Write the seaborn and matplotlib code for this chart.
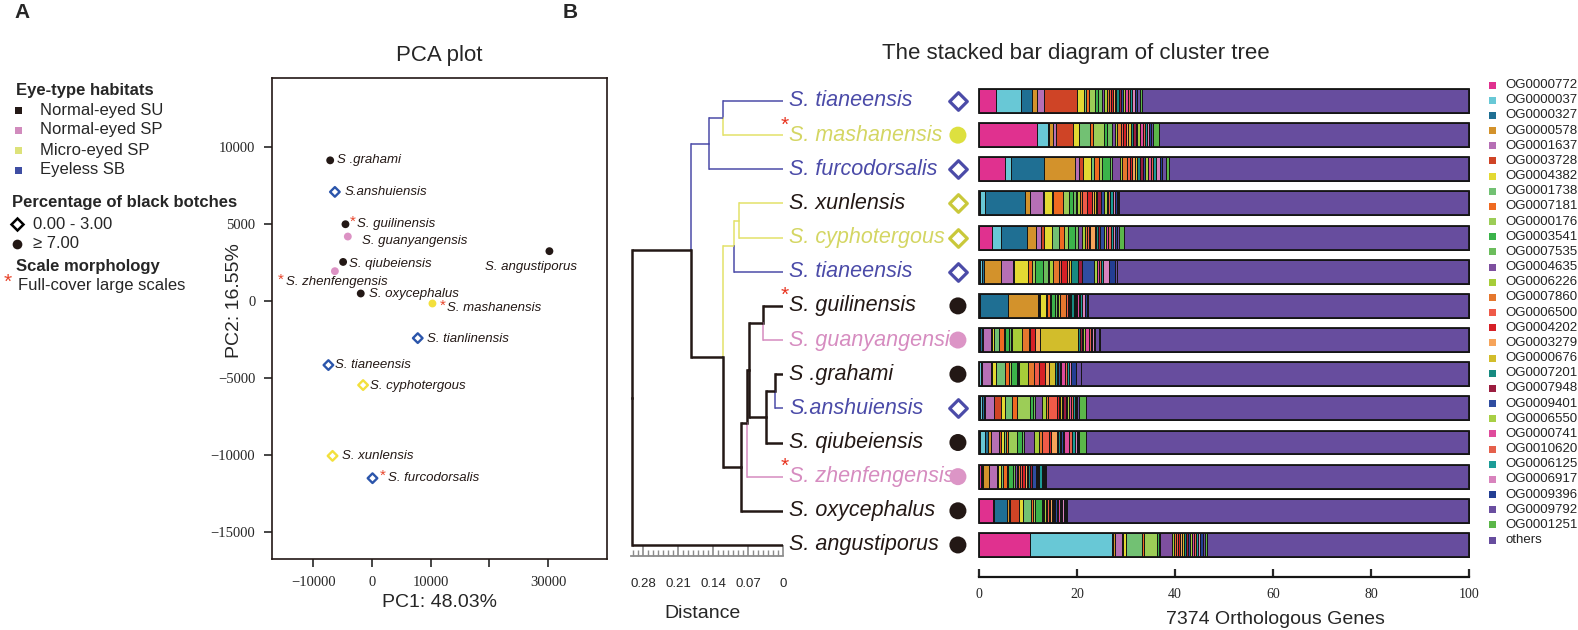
import numpy as np
import pandas as pd
import matplotlib
matplotlib.use('Agg')
from matplotlib import pyplot as plt
from matplotlib.patches import Rectangle
from matplotlib.lines import Line2D
import seaborn as sns

sns.set_style('white')
plt.rcParams['font.family'] = ['Liberation Sans', 'DejaVu Sans']

W, H = 1578, 630


def px(x, y):
    return x / W, 1 - y / H


# ---------------- PCA data ----------------
pca_species = ['S .grahami', 'S.anshuiensis', 'S. guilinensis', 'S. guanyangensis',
               'S. qiubeiensis', 'S. zhenfengensis', 'S. oxycephalus', 'S. mashanensis',
               'S. angustiporus', 'S. tianlinensis', 'S. tianeensis', 'S. cyphotergous',
               'S. xunlensis', 'S. furcodorsalis']
pc1 = [-7100, -6300, -4500, -4100, -4900, -6300, -1900, 10300, 30200, 7800, -7400, -1500, -6700, 100]
pc2 = [9150, 7100, 5000, 4200, 2550, 1950, 500, -150, 3250, -2400, -4150, -5450, -10050, -11500]
pca_habitat = ['SU', 'SB', 'SU', 'SP', 'SU', 'SP', 'SU', 'MSP', 'SU', 'SB', 'SB', 'MSP', 'MSP', 'SB']
pca_blotch = ['high', 'low', 'high', 'high', 'high', 'high', 'high', 'high', 'high',
              'low', 'low', 'low', 'low', 'low']
pca_star = [False, False, True, False, False, True, False, True, False, False, False, False, False, True]

# label offsets in pixels (layout only)
lab_dx = [7, 10, 12, 14, 6, -49, 8, 15, -64, 9, 7, 7, 9, 15]
lab_dy = [0, 0, 0, 4, 2, 11, 1, 5, 16, 1, 0, 1, 0, 0]

pca_pal = {'SU': '#231815', 'SP': '#dc92c4', 'MSP': '#f3e03c', 'SB': '#2b55ab'}

# ---------------- tree data ----------------
tree_tips = ['S. tianeensis', 'S. mashanensis', 'S. furcodorsalis', 'S. xunlensis',
             'S. cyphotergous', 'S. tianeensis', 'S. guilinensis', 'S. guanyangensis',
             'S .grahami', 'S.anshuiensis', 'S. qiubeiensis', 'S. zhenfengensis',
             'S. oxycephalus', 'S. angustiporus']
BLUE, YEL, PINK, BLK = '#4b4ba8', '#e3e26a', '#d68cc0', '#231815'
tip_label_color = [BLUE, '#d4d663', BLUE, BLK, '#d4d663', BLUE, BLK, PINK, BLK, BLUE, BLK, PINK, BLK, BLK]
tip_branch_color = [BLUE, YEL, BLUE, YEL, YEL, BLUE, BLK, PINK, BLK, BLUE, BLK, PINK, BLK, BLK]
tip_marker = ['D', 'o', 'D', 'D', 'D', 'D', 'o', 'o', 'o', 'D', 'o', 'o', 'o', 'o']
tip_marker_color = [BLUE, '#dde03f', BLUE, '#c9c83a', '#c9c83a', BLUE, BLK, '#dc95c6',
                    BLK, BLUE, BLK, '#dc95c6', BLK, BLK]
tip_star = [False, True, False, False, False, False, True, False, False, False, False, True, False, False]

# internal nodes: (name, child a, child b, distance, branch colour)
tree_nodes = [
    ('D', 0, 1, 0.120, BLUE),
    ('B', 'D', 2, 0.148, BLUE),
    ('G', 3, 4, 0.088, YEL),
    ('E', 'G', 5, 0.098, YEL),
    ('I', 6, 7, 0.040, BLK),
    ('L', 8, 9, 0.016, BLK),
    ('K', 'L', 10, 0.034, BLK),
    ('J', 'I', 'K', 0.068, BLK),
    ('H', 'J', 11, 0.072, BLK),
    ('F', 'H', 12, 0.084, BLK),
    ('C', 'E', 'F', 0.120, BLK),
    ('A', 'B', 'C', 0.184, BLK),
    ('R', 'A', 13, 0.302, BLK),
]

# ---------------- stacked bar data (% of 7374 orthologous genes) ----------------
og_ids = ['OG0000772', 'OG0000037', 'OG0000327', 'OG0000578', 'OG0001637', 'OG0003728',
          'OG0004382', 'OG0001738', 'OG0007181', 'OG0000176', 'OG0003541', 'OG0007535',
          'OG0004635', 'OG0006226', 'OG0007860', 'OG0006500', 'OG0004202', 'OG0003279',
          'OG0000676', 'OG0007201', 'OG0007948', 'OG0009401', 'OG0006550', 'OG0000741',
          'OG0010620', 'OG0006125', 'OG0006917', 'OG0009396', 'OG0009792', 'OG0001251', 'others']
og_colors = ['#e0318f', '#68c8d6', '#1f6f93', '#d3922b', '#b66fb5', '#cf4426',
             '#e3d933', '#72c173', '#ef6a21', '#9ccd57', '#3bb34a', '#6cbd5c',
             '#7e4f9f', '#a6cd39', '#e5772e', '#ef5a48', '#d62027', '#f6a45a',
             '#d2bd2b', '#178a80', '#9b1d3f', '#2f4da0', '#a8cf45', '#df4b9c',
             '#e5604c', '#1c9c97', '#d883bd', '#233e93', '#6a4ea0', '#5bb749', '#674d9e']

row_tianeensis_1 = [3.4, 5.1, 2.4, 0.9, 1.4, 6.9, 1.4, 0.4, 0.5, 1.2, 0.7, 0.8, 0.5, 0.6, 0.3,
                    0.4, 0.5, 0.3, 0.3, 0.6, 0.4, 0.3, 0.5, 0.6, 0.5, 0.3, 0.6, 0.5, 0.6, 0.4]
row_mashanensis = [11.8, 2.2, 0.3, 0.9, 0.6, 3.3, 1.3, 2.2, 0.7, 2.2, 0.7, 1.0, 0.5, 0.5, 0.7,
                   0.5, 0.7, 0.4, 0.5, 0.4, 0.6, 0.3, 0.5, 0.6, 0.4, 0.5, 0.4, 0.3, 0.6, 1.2]
row_furcodorsalis = [5.3, 1.2, 6.7, 6.3, 1.0, 0.7, 1.7, 0.5, 1.0, 0.7, 1.6, 0.5, 1.6, 0.4, 1.0,
                     0.6, 0.5, 0.5, 0.4, 0.7, 0.6, 0.4, 0.5, 0.6, 0.5, 0.6, 0.8, 0.5, 0.8, 0.6]
row_xunlensis = [0.2, 1.1, 8.1, 1.0, 2.6, 0.2, 1.7, 0.2, 2.0, 1.2, 0.9, 0.5, 0.3, 0.6, 0.4,
                 1.1, 1.0, 0.4, 0.3, 0.3, 0.8, 0.6, 0.6, 0.3, 0.4, 0.6, 0.3, 0.4, 0.3, 0.2]
row_cyphotergous = [2.6, 1.9, 5.2, 2.0, 0.9, 0.7, 1.6, 1.4, 1.1, 0.8, 1.4, 0.7, 0.8, 0.5, 0.4,
                    0.4, 0.3, 0.9, 0.3, 0.4, 0.3, 1.0, 0.3, 0.4, 0.6, 0.5, 0.3, 0.4, 0.5, 0.9]
row_tianeensis_2 = [0.3, 0.3, 0.5, 3.4, 2.4, 0.3, 2.7, 0.2, 0.8, 0.5, 1.6, 1.0, 0.3, 0.7, 1.4,
                    0.4, 1.1, 0.5, 0.3, 1.6, 0.8, 2.4, 0.5, 0.4, 0.5, 0.4, 1.2, 1.2, 0.4, 0.0]
row_guilinensis = [0.1, 0.1, 5.8, 6.0, 0.2, 0.2, 1.2, 0.3, 0.5, 0.3, 0.8, 0.4, 0.3, 0.4, 1.2,
                   0.3, 0.3, 0.2, 0.2, 0.5, 0.2, 0.3, 0.3, 0.3, 0.3, 0.3, 0.7, 0.3, 0.2, 0.1]
row_guanyangensis = [0.1, 0.2, 0.3, 0.2, 1.6, 0.2, 0.5, 1.0, 0.9, 0.3, 0.9, 0.4, 0.2, 2.0, 1.4,
                     0.3, 1.0, 1.0, 7.8, 0.4, 0.3, 0.3, 0.3, 0.9, 0.3, 0.3, 0.3, 0.3, 0.8, 0.2]
row_grahami = [0.1, 0.3, 0.2, 0.1, 1.8, 0.2, 0.8, 1.9, 0.8, 0.3, 1.2, 0.3, 0.2, 1.9, 1.2,
               1.0, 1.2, 0.8, 1.2, 0.4, 0.3, 0.3, 0.3, 0.7, 0.4, 0.4, 0.5, 1.0, 1.1, 0.0]
row_anshuiensis = [0.2, 0.5, 0.3, 0.2, 1.8, 1.4, 1.0, 1.4, 1.0, 2.7, 0.5, 0.4, 1.5, 0.8, 0.4,
                   1.8, 0.4, 0.3, 0.3, 0.3, 0.5, 0.3, 0.3, 0.5, 0.4, 0.3, 0.3, 0.3, 0.3, 1.5]
row_qiubeiensis = [0.2, 1.1, 0.5, 0.6, 1.7, 0.3, 0.8, 0.4, 0.4, 1.7, 1.0, 0.4, 2.2, 1.0, 0.6,
                   1.4, 0.4, 1.2, 0.3, 0.3, 0.3, 0.3, 0.3, 1.0, 0.5, 0.7, 0.3, 0.3, 0.3, 1.4]
row_zhenfengensis = [0.5, 0.2, 0.2, 1.2, 1.6, 0.2, 0.6, 0.3, 0.9, 0.3, 1.0, 0.4, 0.3, 0.3, 0.3,
                     0.4, 0.6, 0.5, 0.2, 0.5, 0.3, 0.8, 0.2, 0.2, 0.3, 0.5, 0.2, 0.3, 0.2, 0.2]
row_oxycephalus = [2.9, 0.2, 2.7, 0.3, 0.3, 1.8, 0.7, 1.8, 0.4, 0.3, 1.4, 0.2, 0.3, 0.3, 0.3,
                   0.3, 0.3, 0.3, 0.2, 0.3, 0.3, 0.3, 0.3, 0.3, 0.2, 0.3, 0.3, 0.2, 0.3, 0.2]
row_angustiporus = [10.4, 16.7, 0.2, 0.5, 1.4, 0.2, 0.5, 3.3, 0.4, 2.7, 0.4, 0.2, 2.4, 0.4, 0.5,
                    0.4, 0.5, 0.4, 0.3, 0.4, 0.5, 0.4, 0.3, 0.5, 0.4, 0.4, 0.3, 0.7, 0.4, 0.5]

bar_rows = [row_tianeensis_1, row_mashanensis, row_furcodorsalis, row_xunlensis,
            row_cyphotergous, row_tianeensis_2, row_guilinensis, row_guanyangensis,
            row_grahami, row_anshuiensis, row_qiubeiensis, row_zhenfengensis,
            row_oxycephalus, row_angustiporus]

table = pd.DataFrame(bar_rows, columns=og_ids[:-1])
table['others'] = 100 - table.sum(axis=1)

# ---------------- figure ----------------
fig = plt.figure(figsize=(W / 100, H / 100), dpi=100)

fig.text(*px(14, 12), 'A', fontsize=15, fontweight='bold', va='center', ha='left')
fig.text(*px(563, 12), 'B', fontsize=15, fontweight='bold', va='center', ha='left')

# ---- left legend ----
fig.text(*px(16, 90), 'Eye-type habitats', fontsize=12, fontweight='bold', va='center')
hab_labels = ['Normal-eyed SU', 'Normal-eyed SP', 'Micro-eyed SP', 'Eyeless SB']
hab_colors = ['#231815', '#d18bbd', '#dde27a', '#3f4ea3']
for i, (lab, col) in enumerate(zip(hab_labels, hab_colors)):
    y = 110 + 20 * i
    fig.add_artist(Rectangle(px(15, y + 4), 7 / W, 7 / H, transform=fig.transFigure,
                             facecolor=col, edgecolor='none'))
    fig.text(*px(40, y), lab, fontsize=12, va='center')
fig.text(*px(12, 202), 'Percentage of black botches', fontsize=12, fontweight='bold', va='center')
fig.add_artist(Line2D([17 / W], [1 - 224 / H], transform=fig.transFigure, marker='D',
                      markersize=6, markerfacecolor='white', markeredgecolor='black',
                      markeredgewidth=1.8))
fig.text(*px(33, 224), '0.00 - 3.00', fontsize=12, va='center')
fig.add_artist(Line2D([17 / W], [1 - 244 / H], transform=fig.transFigure, marker='o',
                      markersize=7, markerfacecolor='#231815', markeredgecolor='none'))
fig.text(*px(33, 244), '≥ 7.00', fontsize=12, va='center')
fig.text(*px(16, 266), 'Scale morphology', fontsize=12, fontweight='bold', va='center')
fig.text(*px(4, 282), '*', fontsize=15, color='#e8442a', va='center')
fig.text(*px(18, 286), 'Full-cover large scales', fontsize=12, va='center')

# ---- PCA ----
ax_pca = fig.add_axes([272 / W, (H - 559) / H, 335 / W, 481 / H])
pca_df = pd.DataFrame({'species': pca_species, 'pc1': pc1, 'pc2': pc2,
                       'habitat': pca_habitat, 'blotch': pca_blotch})
circ = pca_df[pca_df.blotch == 'high']
diam = pca_df[pca_df.blotch == 'low']
sns.scatterplot(data=circ, x='pc1', y='pc2', hue='habitat', palette=pca_pal, s=32,
                edgecolor='none', legend=False, ax=ax_pca, zorder=3)
sns.scatterplot(data=diam, x='pc1', y='pc2', marker='D', s=24, color='white',
                edgecolor=diam.habitat.map(pca_pal).tolist(), linewidth=1.7,
                legend=False, ax=ax_pca, zorder=3)
for i, name in enumerate(pca_species):
    off = (lab_dx[i] * 0.72, -lab_dy[i] * 0.72)
    ax_pca.annotate(name, (pc1[i], pc2[i]), xytext=off, textcoords='offset points',
                    fontsize=9.5, style='italic', va='center', ha='left', color='#231815')
    if pca_star[i]:
        ax_pca.annotate('*', (pc1[i], pc2[i]), xytext=(off[0] - 5.5, off[1] + 2),
                        textcoords='offset points', fontsize=11, color='#e8442a',
                        va='center', ha='left')
ax_pca.set_xlim(-17000, 40000)
ax_pca.set_ylim(-16750, 14500)
ax_pca.set_xticks([-10000, 0, 10000, 20000, 30000])
ax_pca.set_xticklabels(['\u221210000', '0', '10000', '', '30000'])
ax_pca.set_yticks([-15000, -10000, -5000, 0, 5000, 10000])
ax_pca.set_yticklabels(['\u221215000', '\u221210000', '\u22125000', '0', '5000', '10000'])
ax_pca.tick_params(axis='both', direction='out', length=6, width=1.2, labelsize=10.5,
                   labelfontfamily='Liberation Serif', pad=6, left=True, bottom=True)
for sp in ax_pca.spines.values():
    sp.set_color('#231815')
    sp.set_linewidth(1.2)
ax_pca.set_xlabel('PC1: 48.03%', fontsize=14, labelpad=4)
ax_pca.set_ylabel('PC2: 16.55%', fontsize=14)
ax_pca.yaxis.set_label_coords(-0.086, 0.538)
ax_pca.set_title('PCA plot', fontsize=16, pad=12)


# ---- dendrogram ----
def row_of(ypix):
    return (ypix - 101) / 34.15


ax_tree = fig.add_axes([631 / W, (H - 556) / H, 152 / W, 476 / H])
node_pos = {}
for i in range(len(tree_tips)):
    node_pos[i] = (0.0, float(i), tip_branch_color[i])
for name, a, b, dist, col in tree_nodes:
    ya, yb = node_pos[a][1], node_pos[b][1]
    y = (ya + yb) / 2
    for ch in (a, b):
        cx, cy, cc = node_pos[ch]
        lw = 1.8 if cc == BLK else 1.1
        ax_tree.plot([dist, cx], [cy, cy], color=cc, lw=lw, solid_capstyle='butt')
        ax_tree.plot([dist, dist], [y, cy], color=cc, lw=lw, solid_capstyle='projecting')
    node_pos[name] = (dist, y, col)

for i, name in enumerate(tree_tips):
    ax_tree.text(-0.012, i, name, fontsize=15.5, style='italic', color=tip_label_color[i],
                 va='center', ha='left', clip_on=False)
    if tip_star[i]:
        ax_tree.text(0.004, i - 0.3, '*', fontsize=15, color='#e8321e',
                     va='center', ha='left', clip_on=False)
ax_tree.set_xlim(0.304, 0)
ax_tree.set_ylim(row_of(556), row_of(80))
for s in ['top', 'right', 'left']:
    ax_tree.spines[s].set_visible(False)
ax_tree.spines['bottom'].set_color('#8c8c8c')
ax_tree.spines['bottom'].set_linewidth(1.3)
ax_tree.set_yticks([])
ax_tree.set_xticks([0.28, 0.21, 0.14, 0.07, 0])
ax_tree.set_xticklabels(['0.28', '0.21', '0.14', '0.07', '0'])
ax_tree.set_xticks(np.arange(0, 0.305, 0.01), minor=True)
ax_tree.tick_params(axis='x', which='major', direction='in', length=8, width=1.2,
                    color='#8c8c8c', labelsize=9.5, pad=16, bottom=True)
ax_tree.tick_params(axis='x', which='minor', direction='in', length=4.5, width=1.0,
                    color='#8c8c8c', bottom=True)
fig.text(*px(703, 613), 'Distance', fontsize=14, ha='center', va='center')

# ---- stacked bars ----
ax_bar = fig.add_axes([979 / W, (H - 577) / H, 490 / W, 497 / H])
rows = np.arange(len(table))
left = np.zeros(len(table))
for cat, col in zip(og_ids, og_colors):
    vals = table[cat].values
    ax_bar.barh(rows, vals, left=left, height=0.7, color=col, edgecolor='#151515',
                linewidth=0.7, clip_on=False)
    left = left + vals
ax_bar.barh(rows, left, height=0.7, fill=False, edgecolor='#151515', linewidth=1.3,
            clip_on=False)
for i in range(len(tree_tips)):
    mk = tip_marker[i]
    if mk == 'D':
        ax_bar.scatter([-4.3], [i], marker='D', s=80, facecolor='white',
                       edgecolor=tip_marker_color[i], linewidth=2.3, clip_on=False, zorder=4)
    else:
        ax_bar.scatter([-4.3], [i], marker='o', s=150, color=tip_marker_color[i],
                       edgecolor='none', clip_on=False, zorder=4)
ax_bar.set_xlim(0, 100)
ax_bar.set_ylim(row_of(577), row_of(80))
for s in ['top', 'right', 'left']:
    ax_bar.spines[s].set_visible(False)
ax_bar.spines['bottom'].set_linewidth(1.6)
ax_bar.spines['bottom'].set_color('#151515')
ax_bar.set_yticks([])
ax_bar.set_xticks([0, 20, 40, 60, 80, 100])
ax_bar.tick_params(axis='x', direction='in', length=6, width=1.6, labelsize=10,
                   labelfontfamily='Liberation Serif', pad=8, bottom=True)
fig.text(*px(1275, 620), '7374 Orthologous Genes', fontsize=14, ha='center', va='center')
fig.text(*px(1076, 53), 'The stacked bar diagram of cluster tree', fontsize=16,
         ha='center', va='center')

# ---- right legend ----
for i, (lab, col) in enumerate(zip(og_ids, og_colors)):
    y = 85 + 15.17 * i
    fig.add_artist(Rectangle(px(1489, y + 3.5), 7 / W, 7 / H, transform=fig.transFigure,
                             facecolor=col, edgecolor='none'))
    fig.text(*px(1505, y), lab, fontsize=9.5, va='center', color='#222222')

fig.savefig('out.png', dpi=100)
